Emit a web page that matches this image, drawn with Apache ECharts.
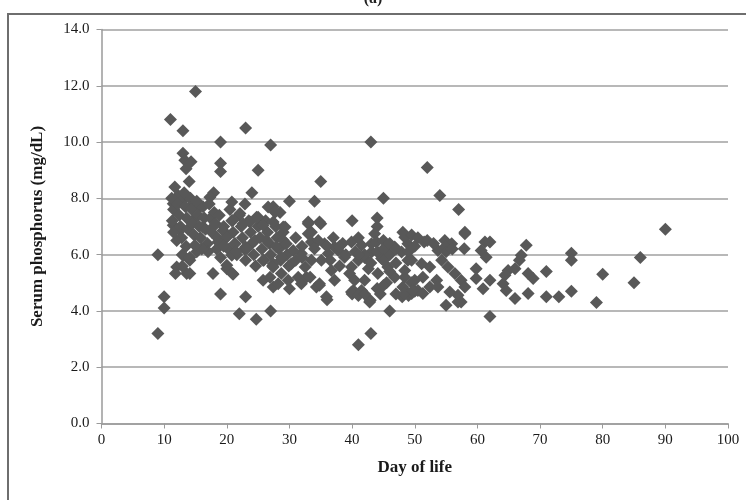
<!DOCTYPE html>
<html>
<head>
<meta charset="utf-8">
<script src="https://cdn.jsdelivr.net/npm/echarts@6/dist/echarts.min.js"></script>
<style>html,body{margin:0;padding:0;background:#fff;}#c{width:746px;height:500px;}</style>
</head>
<body>
<div id="c"></div>
<script>
// Day of life for each measurement
const dayOfLife = [
9,9,10,10,11,13,15,23,19,13,13.3,14.3,13.5,19,19,25,27,43,52,54,57,58,35,14,11.7,17.9,24,30,34,45,40,44,44,41,43,46,22,24.7,27,19,23,62,90,86,85,80,79,75,75,75,73,71,71,
12.25,13,11.45,14.6,15.7,17.3,11.45,12.5,14.6,16.2,11.2,11.5,11.3,12.2,12.4,12.6,12.8,13.2,13.4,13.6,13.8,14.2,14.4,14.5,14.8,15.2,15.4,15.6,15.8,16.2,16.4,16.6,16.9,17.2,17.4,17.6,18,18.2,18.5,18.4,17,16,15.2,13.5,12,11.5,
13,14.1,12,13.6,11.8,14.1,12.9,14.9,12.9,14.1,
18.8,19.5,19.8,20.2,20.5,20.8,21,21.3,21.6,22,22.3,22.5,22.8,23,23.5,23.8,24,24.3,24.6,25,25.3,25.6,25.9,26.2,26.5,26.8,27,27.3,27.8,28,28.3,28.6,29,29.3,29.6,29.9,19,20,21,17.8,20.9,20.8,20,23,27.4,28.7,25.8,27.4,26.9,28.2,30,34.8,36,22.9,22.1,25,27.4,28.5,20.8,24.75,26.6,27.7,21,22.6,23.7,25.8,27.4,29,33,35,33.5,19.4,17.8,18.6,20,21.3,23.2,26.3,27.9,29,25.8,27.4,28.7,
29.3,33,34.8,33,33.5,48.1,39.9,41.5,43.1,35.6,37.2,43.6,43.9,46.8,48.9,34.3,35.9,40.2,42.8,48.9,48.1,42,41.5,39.9,39.6,40.4,30.3,29.8,31.4,31.9,32.7,36.7,37.2,35.1,36.2,31.9,33.5,32.5,29.5,30.6,43.1,44.7,45.7,47.9,48.9,42.6,44.1,38.8,41,37.8,46.8,48.4,34.6,34,39.9,42.9,33.3,34.8,
31,32,38,38.5,36.5,39,40.5,42,44,45,46,47,45.5,44,47,49.5,31,37,41,42,45,46,40,41,42,44.5,45,48,49,50,
41,43,45,47,49,50,46,38,36,32,19.5,21.5,24.5,
48.4,49.5,50.5,51.5,54.8,55.9,53.7,54.3,55.3,56.4,57.4,58,56.9,57.4,55,51.3,52.4,53.5,53.7,49.5,50.5,49.5,51.1,52.4,48.4,50,57.9,61.2,62,60.6,61.4,59.8,59.8,60.9,62,58,54.8,55.6,51.3,56.9,48.4,49.7,52,53,55,56,
67.8,67,66.7,64.9,66,64.4,68.1,68.9,64.1,64.6,66,68.1
];
// Serum phosphorus (mg/dL) for each measurement
const serumPhosphorus = [
6.0,3.2,4.5,4.1,10.8,10.4,11.8,10.5,10.0,9.6,9.35,9.3,9.05,9.25,8.95,9.0,9.9,10.0,9.1,8.1,7.6,6.8,8.6,8.6,8.4,8.2,8.2,7.9,7.9,8.0,7.2,7.3,7.0,2.8,3.2,4.0,3.9,3.7,4.0,4.6,4.5,3.8,6.9,5.9,5.0,5.3,4.3,6.05,5.8,4.7,4.5,5.4,4.5,
8.1,7.93,7.81,7.81,7.69,8.04,7.04,6.86,7.22,6.98,8.0,7.6,7.2,7.8,7.4,7.0,6.6,8.2,7.7,7.3,6.9,8.0,7.6,7.1,6.7,7.9,7.4,7.0,6.6,7.7,7.3,6.9,6.4,7.8,7.3,6.8,7.5,7.1,6.6,6.2,6.1,6.2,6.1,6.3,6.5,6.8,
5.98,5.8,5.56,5.33,5.33,5.33,5.59,6.33,6.0,5.9,
7.4,7.0,6.6,6.2,7.6,7.2,6.8,6.4,6.0,7.4,7.0,6.6,6.2,5.8,7.2,6.8,6.4,6.0,5.6,7.0,6.6,6.2,5.8,7.2,6.8,6.4,6.0,5.6,7.0,6.6,6.2,5.8,6.8,6.4,6.0,5.6,5.9,5.5,5.3,5.33,5.33,5.98,5.62,6.27,5.68,5.33,5.09,4.85,5.2,4.97,4.79,4.91,4.4,7.8,7.46,7.33,7.7,7.5,7.87,7.33,7.69,7.51,7.22,7.1,7.16,7.04,7.16,6.98,7.1,7.1,6.8,6.86,6.98,6.45,6.62,6.39,6.21,6.51,6.27,6.51,5.8,5.56,5.91,
6.98,7.16,7.16,6.74,6.45,6.8,6.45,6.33,6.39,6.39,6.27,6.74,6.45,6.27,6.39,4.85,4.5,4.73,4.32,4.62,4.85,5.09,4.73,5.56,5.33,5.09,5.68,5.09,5.2,4.97,5.2,5.44,5.09,5.8,6.04,6.04,5.8,5.56,6.39,6.15,6.09,5.86,5.56,6.09,5.8,5.5,5.33,5.91,5.8,6.15,5.2,5.44,6.5,6.21,4.67,4.38,5.2,4.97,
6.6,6.3,5.6,6.4,5.8,6.0,6.1,5.9,6.1,6.5,6.0,5.7,5.0,4.8,4.6,5.0,5.8,6.6,6.6,6.0,6.2,6.4,4.6,4.55,4.6,4.6,4.9,4.5,4.55,4.7,
6.0,5.7,5.8,6.2,6.1,6.3,5.4,6.3,6.3,5.9,6.3,6.1,6.5,
6.62,6.7,6.6,6.45,6.5,6.39,6.15,5.8,5.56,5.33,5.09,4.85,4.56,4.32,4.2,5.2,4.85,5.09,4.85,4.62,4.73,5.8,5.68,5.56,5.2,5.09,6.21,6.45,6.45,6.15,5.91,5.5,5.15,4.79,5.09,6.74,6.27,4.67,4.62,4.32,4.62,4.73,6.5,6.4,6.1,6.2,
6.33,5.98,5.8,5.44,5.5,5.27,5.33,5.15,4.97,4.73,4.44,4.62
];
const yTicks = [0,2,4,6,8,10,12,14];
const xTicks = [0,10,20,30,40,50,60,70,80,90,100];

const points = dayOfLife.map((d,i)=>[d, serumPhosphorus[i]]);
const chart = echarts.init(document.getElementById('c'));
const serif = 'Liberation Serif';
chart.setOption({
  animation:false,
  backgroundColor:'#fff',
  graphic:[
    {type:'rect', shape:{x:8,y:14,width:780,height:520}, style:{fill:'none',stroke:'#6e6e6e',lineWidth:2}},
    {type:'text', left:'center', top:-9, style:{text:'(a)', font:'bold 16px "Liberation Serif"', fill:'#222'}}
  ],
  grid:{left:101.5,right:18,top:29.5,bottom:76.5},
  xAxis:{type:'value',min:xTicks[0],max:xTicks[xTicks.length-1],interval:10,
    name:'Day of life',nameLocation:'middle',nameGap:36,
    nameTextStyle:{fontFamily:serif,fontWeight:'bold',fontSize:17,color:'#1a1a1a'},
    axisLine:{lineStyle:{color:'#9a9a9a',width:1.5}},
    axisTick:{show:true,length:5,lineStyle:{color:'#9a9a9a'}},
    axisLabel:{fontFamily:serif,fontSize:15,color:'#1a1a1a',margin:9},
    splitLine:{show:false}},
  yAxis:{type:'value',min:yTicks[0],max:yTicks[yTicks.length-1],interval:2,
    name:'Serum phosphorus (mg/dL)',nameLocation:'middle',nameGap:55,
    nameTextStyle:{fontFamily:serif,fontWeight:'bold',fontSize:17,color:'#1a1a1a'},
    axisLine:{show:true,lineStyle:{color:'#9a9a9a',width:1.5}},
    axisTick:{show:true,length:5,lineStyle:{color:'#9a9a9a'}},
    axisLabel:{fontFamily:serif,fontSize:15,color:'#1a1a1a',margin:12,formatter:v=>v.toFixed(1)},
    splitLine:{show:true,lineStyle:{color:'#a0a0a0',width:1.5}}},
  series:[{type:'scatter',data:points,symbol:'diamond',symbolSize:13,
    itemStyle:{color:'#585858',opacity:1}}]
});
</script>
</body>
</html>
